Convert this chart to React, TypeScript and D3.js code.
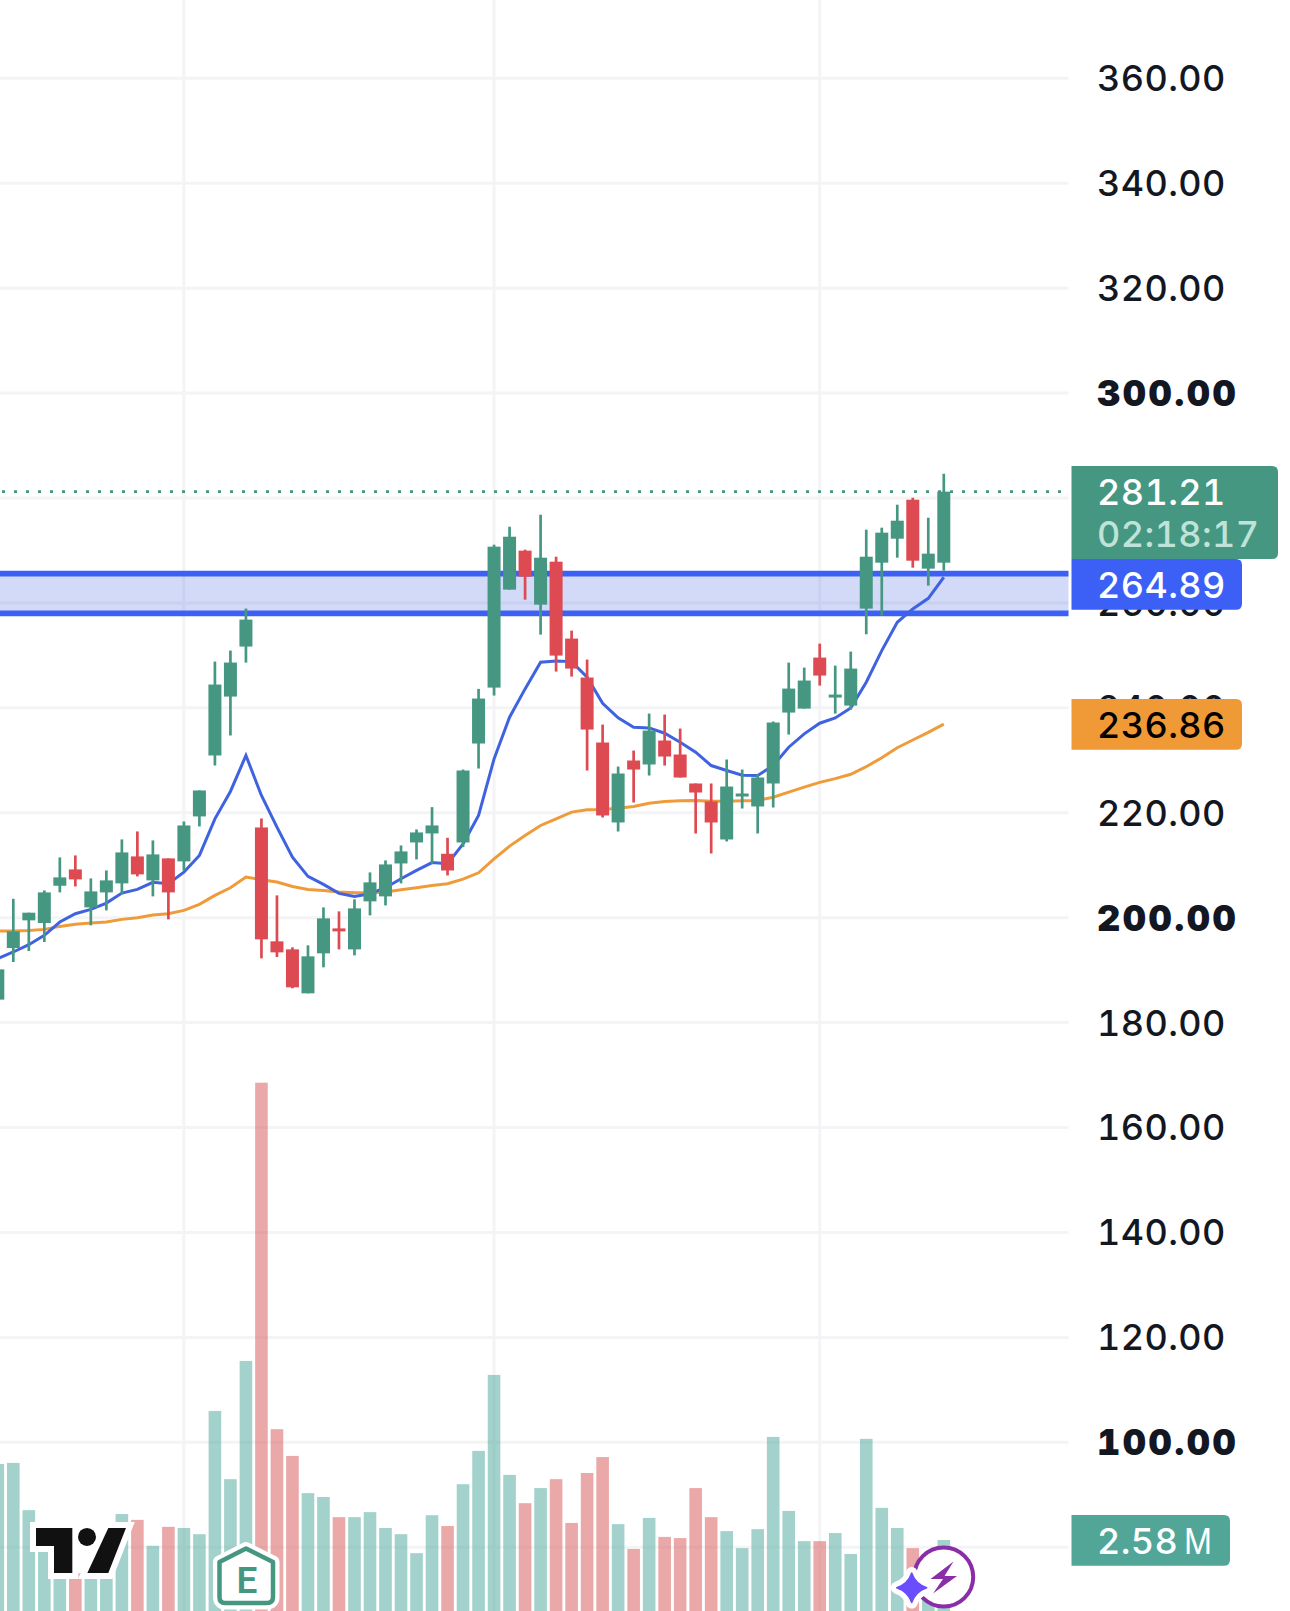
import { useEffect, useRef } from "react";
import { line, scaleLinear, select } from "d3";

const W = 1290;
const H = 1611;
const PLOT_RIGHT = 1068.5;

// candles run from index -1 (cut off by the left edge) to 60
const firstIndex = -1;
const opens = [184.38, 194.22, 199.49, 198.98, 206.09, 209.2, 201.96, 204.82, 206.54, 211.68, 207.11, 211.3, 210.73, 219.3, 230.92, 242.15, 251.68, 217.2, 195.49, 193.96, 185.58, 193.2, 197.96, 193.96, 203.11, 204.06, 210.34, 214.34, 216.06, 212.18, 214.34, 233.2, 243.86, 262.53, 269.96, 259.67, 267.86, 253.2, 245.77, 233.39, 218.15, 229.96, 229.2, 233.77, 231.1, 225.58, 222.15, 214.91, 223.1, 221.2, 225.58, 239.1, 239.86, 249.58, 241.96, 240.43, 258.91, 267.67, 272.24, 279.67, 266.53, 267.67];
const closes = [190.15, 197.39, 200.95, 204.82, 207.68, 207.3, 205.01, 207.11, 212.44, 208.25, 212.06, 204.82, 217.58, 224.25, 244.44, 248.63, 256.82, 195.87, 193.39, 186.73, 192.63, 199.87, 197.39, 201.77, 206.73, 210.15, 212.63, 216.25, 217.58, 209, 228.05, 241.77, 270.72, 272.62, 265, 268.62, 249.96, 247.48, 235.86, 219.48, 227.48, 228.24, 235.67, 230.72, 226.72, 223.86, 218.15, 225, 223.67, 226.72, 237.2, 243.67, 245.2, 246.15, 242.53, 247.48, 268.81, 273.39, 275.67, 268.05, 269.39, 281.21];
const highs = [190.5, 203.6, 200.95, 205.2, 211.49, 211.87, 207.49, 209.01, 214.92, 216.44, 214.73, 211.3, 218.34, 224.25, 248.82, 250.92, 258.92, 218.92, 204.25, 194.34, 194.73, 201.96, 201.2, 203.49, 208.63, 210.92, 213.77, 216.82, 221.07, 215.23, 228.24, 243.61, 271.1, 274.53, 270.15, 276.81, 268.81, 254.72, 249.2, 236.81, 228.81, 231.86, 238.91, 238.72, 236.05, 225.58, 225.58, 230.15, 228.24, 227.29, 237.39, 248.62, 247.67, 252.24, 248.05, 250.72, 273.96, 274.34, 278.72, 280.05, 276.24, 284.62];
const lows = [184.2, 191.55, 193.65, 195.36, 204.82, 205.96, 198.54, 201.39, 204.44, 207.87, 204.06, 199.68, 209.01, 217.39, 229.01, 234.73, 248.63, 192.25, 192.5, 186.54, 185.58, 190.54, 193.96, 192.82, 200.44, 202.34, 206.54, 211.11, 210.27, 208.05, 213.45, 228.43, 242.34, 262.53, 260.62, 253.96, 246.91, 245.96, 228.05, 219.1, 216.43, 221.96, 227.1, 229, 226.72, 216.05, 212.24, 214.53, 220.81, 216.05, 221, 234.91, 239.86, 244.24, 238.91, 239.67, 254.02, 257.58, 268.62, 266.72, 263.29, 266.15];
// volume in millions
const volumes = [4.54, 4.57, 3.35, 2.28, 2.0, 2.6, 2.4, 2.2, 3.25, 3.1, 2.43, 2.92, 2.89, 2.73, 5.91, 4.15, 7.2, 14.38, 5.44, 4.75, 3.79, 3.69, 3.17, 3.17, 3.3, 2.89, 2.73, 2.24, 3.22, 2.94, 4.02, 4.88, 6.84, 4.26, 3.53, 3.92, 4.15, 3.02, 4.31, 4.72, 2.99, 2.35, 3.15, 2.66, 2.63, 3.92, 3.17, 2.81, 2.37, 2.86, 5.24, 3.33, 2.55, 2.55, 2.76, 2.22, 5.19, 3.41, 2.89, 2.37, 1.5, 2.58];
const maFast = [192.19, 193.46, 194.85, 196.63, 199.17, 200.76, 201.58, 202.79, 204.69, 205.39, 206.73, 206.47, 208.69, 211.87, 218.85, 224.06, 230.92, 223.3, 217.27, 211.55, 207.87, 206.34, 204.63, 204.06, 204.57, 205.71, 207.42, 209.01, 210.5, 210.27, 214.08, 219.48, 230.27, 238.21, 243.61, 248.69, 248.94, 248.81, 245.83, 240.88, 238.08, 236.31, 236.18, 235.16, 233.45, 231.54, 229, 228.05, 227.16, 227.1, 229, 232.5, 235.04, 237.07, 238.08, 239.99, 244.88, 250.91, 256.31, 258.85, 260.88, 264.89];
const maSlow = [197.46, 197.46, 197.58, 197.77, 198.34, 198.73, 198.98, 199.17, 199.68, 200, 200.5, 200.76, 201.39, 202.54, 204.25, 205.71, 207.74, 207.23, 206.79, 205.96, 205.39, 205.2, 204.88, 204.76, 204.76, 204.88, 205.33, 205.71, 206.15, 206.47, 207.35, 208.56, 211.23, 213.64, 215.67, 217.58, 218.85, 220.12, 220.56, 220.62, 220.88, 221.2, 221.83, 222.15, 222.27, 222.34, 222.21, 222.21, 222.27, 222.34, 222.97, 223.93, 224.88, 225.8, 226.5, 227.33, 228.78, 230.5, 232.4, 233.87, 235.33, 236.9];

const priceTicks = [360, 340, 320, 300, 280, 260, 240, 220, 200, 180, 160, 140, 120, 100, 80];
const boldTicks = [300, 200, 100];
const timeGridIndexes = [11, 31, 52];
const zonePrices = [265.6, 258];
const lastPrice = 281.21;
const countdown = "02:18:17";
const maFastLabel = "264.89";
const maSlowLabel = "236.86";
const volumeLabel = "2.58";

const GREEN = "#459782";
const RED = "#dd4a52";
const BLUE = "#3c60f5";
const ORANGE = "#f09a37";
const INK = "#131722";
const FONT = "Inter, 'Noto Sans', sans-serif";

export default function App() {
  const ref = useRef<SVGSVGElement>(null);

  useEffect(() => {
    if (!ref.current) return;
    document.body.style.margin = "0";
    const svg = select(ref.current);
    svg.selectAll("*").remove();

    const x = scaleLinear().domain([firstIndex, 60]).range([-2.2, 943.8]);
    const y = scaleLinear().domain([360, 100]).range([78.3, 1442.3]);
    const yVol = scaleLinear().domain([0, 14.38]).range([1640, 1082.7]);
    const indexes = opens.map((_d, i) => i + firstIndex);
    const isUp = (i: number) => closes[i - firstIndex] >= opens[i - firstIndex];

    // grid
    const grid = svg.append("g").attr("stroke", "#f4f4f6").attr("stroke-width", 3);
    priceTicks.forEach((t) => {
      grid.append("line").attr("x1", 0).attr("x2", PLOT_RIGHT).attr("y1", y(t)).attr("y2", y(t));
    });
    timeGridIndexes.forEach((i) => {
      grid.append("line").attr("x1", x(i)).attr("x2", x(i)).attr("y1", 0).attr("y2", H);
    });

    // volume
    svg
      .append("g")
      .selectAll("rect")
      .data(indexes)
      .join("rect")
      .attr("x", (i) => x(i) - 6.3)
      .attr("width", 12.6)
      .attr("y", (i) => yVol(volumes[i - firstIndex]))
      .attr("height", (i) => yVol(0) - yVol(volumes[i - firstIndex]))
      .attr("fill", (i) => (isUp(i) ? "#47a599" : "#d55351"))
      .attr("fill-opacity", 0.5);

    // support / resistance zone
    svg
      .append("rect")
      .attr("x", 0)
      .attr("width", PLOT_RIGHT)
      .attr("y", y(zonePrices[0]))
      .attr("height", y(zonePrices[1]) - y(zonePrices[0]))
      .attr("fill", "#3c60dc")
      .attr("fill-opacity", 0.23);
    zonePrices.forEach((p) => {
      svg
        .append("line")
        .attr("x1", 0)
        .attr("x2", PLOT_RIGHT)
        .attr("y1", y(p))
        .attr("y2", y(p))
        .attr("stroke", BLUE)
        .attr("stroke-width", 5.7);
    });

    // moving averages
    const lineGen = line<number>()
      .x((_d, i) => x(i + firstIndex))
      .y((d) => y(d));
    svg
      .append("path")
      .attr("d", lineGen(maSlow) || "")
      .attr("fill", "none")
      .attr("stroke", "#ef9b3a")
      .attr("stroke-width", 3);
    svg
      .append("path")
      .attr("d", lineGen(maFast) || "")
      .attr("fill", "none")
      .attr("stroke", "#3f63e0")
      .attr("stroke-width", 3);

    // last price line
    svg
      .append("line")
      .attr("x1", 2)
      .attr("x2", PLOT_RIGHT)
      .attr("y1", y(lastPrice))
      .attr("y2", y(lastPrice))
      .attr("stroke", GREEN)
      .attr("stroke-width", 2.7)
      .attr("stroke-dasharray", "3 9");

    // candles
    const candles = svg.append("g");
    candles
      .selectAll("line")
      .data(indexes)
      .join("line")
      .attr("x1", (i) => x(i))
      .attr("x2", (i) => x(i))
      .attr("y1", (i) => y(highs[i - firstIndex]))
      .attr("y2", (i) => y(lows[i - firstIndex]))
      .attr("stroke", (i) => (isUp(i) ? GREEN : RED))
      .attr("stroke-width", 2.7);
    candles
      .selectAll("rect")
      .data(indexes)
      .join("rect")
      .attr("x", (i) => x(i) - 6.5)
      .attr("width", 13)
      .attr("y", (i) => y(Math.max(opens[i - firstIndex], closes[i - firstIndex])))
      .attr("height", (i) => Math.abs(y(opens[i - firstIndex]) - y(closes[i - firstIndex])))
      .attr("fill", (i) => (isUp(i) ? GREEN : RED));

    // price axis labels
    svg
      .append("g")
      .selectAll("text")
      .data(priceTicks)
      .join("text")
      .attr("x", 1097)
      .attr("y", (t) => y(t))
      .attr("dy", "0.36em")
      .attr("font-family", FONT)
      .attr("font-size", 36)
      .style("font-feature-settings", "'tnum'")
      .attr("letter-spacing", (t) => (boldTicks.includes(t) ? 2.6 : 0.4))
      .attr("font-weight", (t) => (boldTicks.includes(t) ? 900 : 500))
      .attr("fill", INK)
      .text((t) => t.toFixed(2));

    // right-side tags, square on the left and rounded on the right
    const tag = (x0: number, x1: number, y0: number, y1: number, fill: string) => {
      const r = 6;
      svg
        .append("path")
        .attr("d", `M${x0},${y0}H${x1 - r}Q${x1},${y0} ${x1},${y0 + r}V${y1 - r}Q${x1},${y1} ${x1 - r},${y1}H${x0}Z`)
        .attr("fill", fill);
    };
    const tagText = (txt: string, yc: number, fill: string) => {
      svg
        .append("text")
        .attr("x", 1097)
        .attr("y", yc)
        .attr("dy", "0.36em")
        .attr("font-family", FONT)
        .attr("font-size", 36)
        .style("font-feature-settings", "'tnum'")
        .attr("letter-spacing", 0.4)
        .attr("font-weight", 500)
        .attr("fill", fill)
        .text(txt);
    };
    tag(1071.5, 1278, 466, 559, GREEN);
    tag(1071.5, 1242, 559, 609.7, BLUE);
    tag(1071.5, 1242, 699, 749.7, ORANGE);
    tag(1071.5, 1230, 1515, 1565.7, "#52a698");
    tagText(lastPrice.toFixed(2), 492.5, "#ffffff");
    tagText(countdown, 534.5, "#bfe3d8");
    tagText(maFastLabel, 585.5, "#ffffff");
    tagText(maSlowLabel, 725.5, "#000000");
    tagText(volumeLabel, 1541, "#ffffff");
    svg
      .append("text")
      .attr("x", 1184)
      .attr("y", 1541)
      .attr("dy", "0.36em")
      .attr("font-family", FONT)
      .attr("font-size", 36)
      .attr("font-weight", 400)
      .attr("textLength", 28)
      .attr("lengthAdjust", "spacingAndGlyphs")
      .attr("fill", "#ffffff")
      .text("M");

    // TradingView mark
    const logo = svg.append("g").attr("transform", "translate(0,1350) scale(0.3333)");
    const logoT = "M108,534H217V669H162V588H108Z";
    const logoSlash = "M325,534H378L325,669H262Z";
    logo
      .selectAll("path.halo")
      .data([logoT, logoSlash])
      .join("path")
      .attr("class", "halo")
      .attr("d", (d) => d)
      .attr("fill", "#fff")
      .attr("stroke", "#fff")
      .attr("stroke-width", 36);
    logo.append("circle").attr("cx", 261).attr("cy", 561).attr("r", 45).attr("fill", "#fff");
    logo.append("rect").attr("x", 220).attr("y", 520).attr("width", 60).attr("height", 150).attr("fill", "#fff");
    logo.append("path").attr("d", logoT).attr("fill", "#111111");
    logo.append("path").attr("d", logoSlash).attr("fill", "#111111");
    logo.append("circle").attr("cx", 261).attr("cy", 561).attr("r", 27).attr("fill", "#111111");

    // earnings marker
    const house = "M246,1548.5L273,1562V1597Q273,1603 267,1603H225Q219.5,1603 219.5,1597V1562Z";
    svg
      .append("path")
      .attr("d", house)
      .attr("fill", "#fff")
      .attr("stroke", "#fff")
      .attr("stroke-width", 13)
      .attr("stroke-linejoin", "round");
    svg
      .append("path")
      .attr("d", house)
      .attr("fill", "#fff")
      .attr("stroke", GREEN)
      .attr("stroke-width", 4.5)
      .attr("stroke-linejoin", "round");
    svg
      .append("text")
      .attr("x", 247)
      .attr("y", 1593)
      .attr("text-anchor", "middle")
      .attr("font-family", "Roboto, sans-serif")
      .attr("font-size", 37)
      .attr("font-weight", 600)
      .attr("fill", GREEN)
      .text("E");

    // bolt badge and star
    svg.append("circle").attr("cx", 943.7).attr("cy", 1577).attr("r", 29.5).attr("fill", "#fff").attr("stroke", "#8a2ea8").attr("stroke-width", 4);
    svg
      .append("path")
      .attr("d", "M953.5,1561.5L930.5,1579H943L933,1593.5L957,1576H944.5Z")
      .attr("fill", "#8a2ea8");
    const star = "M911.7,1573Q915.5,1584 926.7,1587.7Q915.5,1591.5 911.7,1602.5Q908,1591.5 896.7,1587.7Q908,1584 911.7,1573Z";
    svg.append("path").attr("d", star).attr("fill", "#fff").attr("stroke", "#fff").attr("stroke-width", 12).attr("stroke-linejoin", "round");
    svg.append("path").attr("d", star).attr("fill", "#6a4dfc").attr("stroke", "#6a4dfc").attr("stroke-width", 1.5).attr("stroke-linejoin", "round");
  }, []);

  return <svg ref={ref} width={W} height={H} viewBox={`0 0 ${W} ${H}`} style={{ display: "block", background: "#fff", position: "absolute", left: 0, top: 0 }} />;
}
